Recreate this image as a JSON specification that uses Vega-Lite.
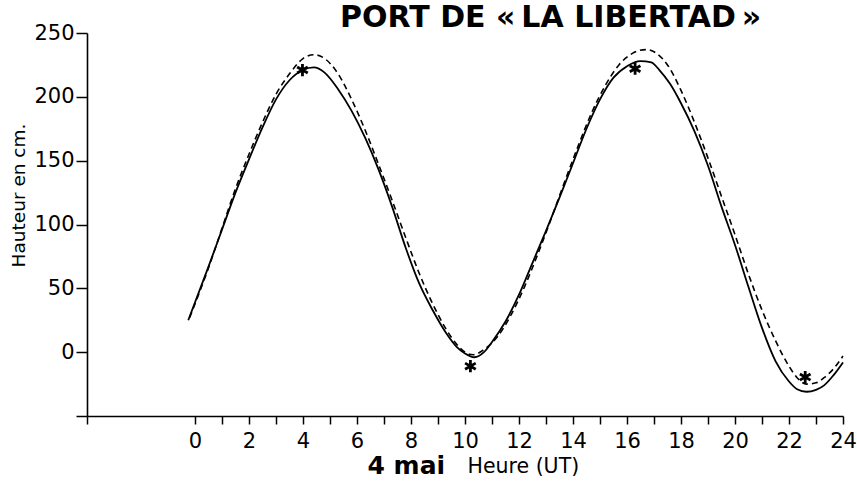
{
  "$schema": "https://vega.github.io/schema/vega-lite/v6.json",
  "width": 756,
  "height": 383,
  "autosize": {"type": "none"},
  "padding": {"left": 87, "top": 33, "right": 14, "bottom": 68},
  "background": "white",
  "config": {
    "view": {"stroke": null},
    "font": "DejaVu Sans"
  },
  "title": {
    "text": "PORT DE «\u2009LA LIBERTAD\u2009»",
    "font": "DejaVu Sans",
    "fontSize": 30,
    "fontWeight": "bold",
    "color": "black",
    "anchor": "start",
    "frame": "group",
    "dx": 253,
    "dy": 40,
    "baseline": "alphabetic",
    "offset": 5
  },
  "datasets": {
    "observed": [
      {"h": -0.25, "v": 25}, {"h": 0.5, "v": 67}, {"h": 1, "v": 96}, {"h": 1.5, "v": 125},
      {"h": 2, "v": 151}, {"h": 2.5, "v": 176}, {"h": 3, "v": 198}, {"h": 3.5, "v": 213},
      {"h": 4, "v": 221}, {"h": 4.4, "v": 223}, {"h": 4.8, "v": 219}, {"h": 5.3, "v": 206},
      {"h": 5.8, "v": 189}, {"h": 6.3, "v": 168}, {"h": 6.8, "v": 143}, {"h": 7.3, "v": 114},
      {"h": 7.8, "v": 82}, {"h": 8.3, "v": 54}, {"h": 8.8, "v": 33}, {"h": 9.3, "v": 15},
      {"h": 9.7, "v": 4}, {"h": 10.0, "v": -1}, {"h": 10.35, "v": -4}, {"h": 10.7, "v": 0},
      {"h": 11, "v": 8}, {"h": 11.5, "v": 24}, {"h": 12, "v": 45}, {"h": 12.5, "v": 70},
      {"h": 13, "v": 95}, {"h": 13.5, "v": 121}, {"h": 14, "v": 148}, {"h": 14.5, "v": 175},
      {"h": 15, "v": 198}, {"h": 15.5, "v": 215}, {"h": 16, "v": 224}, {"h": 16.5, "v": 228},
      {"h": 16.9, "v": 227}, {"h": 17.2, "v": 221}, {"h": 17.6, "v": 210}, {"h": 18, "v": 195},
      {"h": 18.5, "v": 173}, {"h": 19, "v": 146}, {"h": 19.5, "v": 114}, {"h": 20, "v": 84},
      {"h": 20.5, "v": 51}, {"h": 21, "v": 19}, {"h": 21.5, "v": -7}, {"h": 22, "v": -23},
      {"h": 22.3, "v": -29}, {"h": 22.65, "v": -31}, {"h": 23, "v": -29.5}, {"h": 23.3, "v": -26},
      {"h": 23.65, "v": -18}, {"h": 24, "v": -8}
    ],
    "predicted": [
      {"h": -0.2, "v": 27}, {"h": 0.5, "v": 66}, {"h": 1, "v": 97}, {"h": 1.5, "v": 128},
      {"h": 2, "v": 155}, {"h": 2.5, "v": 180}, {"h": 3, "v": 202}, {"h": 3.5, "v": 218},
      {"h": 4, "v": 230}, {"h": 4.4, "v": 233}, {"h": 4.8, "v": 230}, {"h": 5.3, "v": 218},
      {"h": 5.8, "v": 198}, {"h": 6.3, "v": 174}, {"h": 6.8, "v": 147}, {"h": 7.3, "v": 119},
      {"h": 7.8, "v": 90}, {"h": 8.3, "v": 62}, {"h": 8.8, "v": 38}, {"h": 9.3, "v": 18},
      {"h": 9.7, "v": 6}, {"h": 10.0, "v": 0}, {"h": 10.3, "v": -2}, {"h": 10.7, "v": 2},
      {"h": 11.2, "v": 12}, {"h": 11.7, "v": 29}, {"h": 12.2, "v": 51}, {"h": 12.7, "v": 77},
      {"h": 13.2, "v": 105}, {"h": 13.7, "v": 134}, {"h": 14.2, "v": 162}, {"h": 14.7, "v": 188},
      {"h": 15.2, "v": 209}, {"h": 15.7, "v": 225}, {"h": 16.2, "v": 234}, {"h": 16.7, "v": 237},
      {"h": 17.1, "v": 234}, {"h": 17.5, "v": 225}, {"h": 18, "v": 205}, {"h": 18.5, "v": 180},
      {"h": 19, "v": 152}, {"h": 19.5, "v": 122}, {"h": 20, "v": 92}, {"h": 20.5, "v": 61},
      {"h": 21, "v": 33}, {"h": 21.5, "v": 9}, {"h": 22, "v": -11}, {"h": 22.3, "v": -20},
      {"h": 22.65, "v": -25}, {"h": 23, "v": -24}, {"h": 23.3, "v": -20}, {"h": 23.65, "v": -13},
      {"h": 24, "v": -3}
    ],
    "extremes": [
      {"h": 3.98, "v": 221}, {"h": 10.2, "v": -11}, {"h": 16.3, "v": 222}, {"h": 22.6, "v": -19.5}
    ]
  },
  "encoding": {
    "y": {
      "field": "v",
      "type": "quantitative",
      "scale": {"domain": [-50, 250], "nice": false, "zero": false},
      "axis": {
        "values": [-50, 0, 50, 100, 150, 200, 250],
        "labelExpr": "datum.value < 0 ? '' : datum.label",
        "grid": false,
        "domainColor": "black",
        "domainWidth": 1.6,
        "tickColor": "black",
        "tickWidth": 1.5,
        "tickSize": 11,
        "labelFont": "DejaVu Sans",
        "labelFontSize": 21,
        "labelColor": "black",
        "labelPadding": 2,
        "title": "Hauteur en cm.",
        "titleFont": "DejaVu Sans",
        "titleFontSize": 18.5,
        "titleFontWeight": "normal",
        "titleColor": "black",
        "titleAngle": 270,
        "titleAlign": "center",
        "titleBaseline": "middle",
        "titleX": -69,
        "titleY": 162
      }
    }
  },
  "layer": [
    {
      "data": {"name": "observed"},
      "mark": {"type": "line", "color": "black", "strokeWidth": 1.8, "interpolate": "monotone"},
      "encoding": {
        "x": {
          "field": "h",
          "type": "quantitative",
          "scale": {"domain": [-4, 24], "nice": false, "zero": false},
          "axis": {
            "values": [-4, 0, 1, 2, 3, 4, 5, 6, 7, 8, 9, 10, 11, 12, 13, 14, 15, 16, 17, 18, 19, 20, 21, 22, 23, 24],
            "labelExpr": "datum.value >= 0 && datum.value % 2 == 0 ? datum.label : ''",
            "grid": false,
            "domainColor": "black",
            "domainWidth": 1.6,
            "tickColor": "black",
            "tickWidth": 1.5,
            "tickSize": 8,
            "labelFont": "DejaVu Sans",
            "labelFontSize": 21,
            "labelColor": "black",
            "labelPadding": 6,
            "labelFlush": false,
            "labelOverlap": false,
            "title": "Heure (UT)",
            "titleFont": "DejaVu Sans",
            "titleFontSize": 20.5,
            "titleFontWeight": "normal",
            "titleColor": "black",
            "titleAlign": "left",
            "titleBaseline": "alphabetic",
            "titleX": 380,
            "titleY": 56
          }
        }
      }
    },
    {
      "data": {"name": "predicted"},
      "mark": {"type": "line", "color": "black", "strokeWidth": 1.6, "strokeDash": [6, 4], "interpolate": "monotone"},
      "encoding": {
        "x": {
          "field": "h",
          "type": "quantitative",
          "axis": {
            "orient": "bottom",
            "domain": false,
            "ticks": false,
            "labels": false,
            "grid": false,
            "title": "4 mai",
            "titleFont": "DejaVu Sans",
            "titleFontSize": 25,
            "titleFontWeight": "bold",
            "titleColor": "black",
            "titleAlign": "left",
            "titleBaseline": "alphabetic",
            "titleX": 280,
            "titleY": 57
          }
        }
      }
    },
    {
      "data": {"name": "extremes"},
      "mark": {
        "type": "point",
        "shape": "M0,-1L0,1M-0.87,-0.5L0.87,0.5M-0.87,0.5L0.87,-0.5",
        "filled": false,
        "stroke": "black",
        "strokeWidth": 2.8,
        "size": 150,
        "opacity": 1
      },
      "encoding": {
        "x": {"field": "h", "type": "quantitative", "axis": null}
      }
    }
  ],
  "resolve": {"axis": {"x": "independent"}}
}
